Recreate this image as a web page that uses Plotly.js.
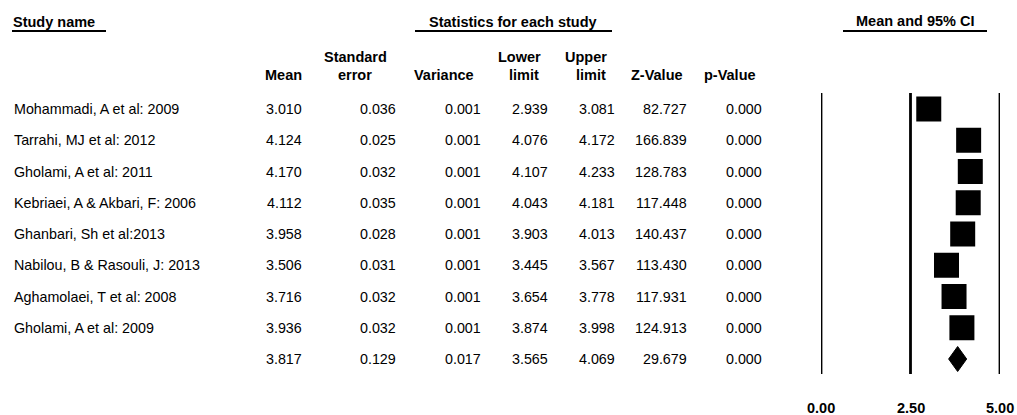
<!DOCTYPE html>
<html>
<head>
<meta charset="utf-8">
<script src="https://cdn.plot.ly/plotly-3.0.1.min.js"></script>
<style>html,body{margin:0;padding:0;background:#fff;}#chart{width:1017px;height:415px;}</style>
</head>
<body>
<div id="chart"></div>
<script>
// ---- data ----
const studyNames = [
  "Mohammadi, A et al: 2009",
  "Tarrahi, MJ et al: 2012",
  "Gholami, A et al: 2011",
  "Kebriaei, A & Akbari, F: 2006",
  "Ghanbari, Sh et al:2013",
  "Nabilou, B & Rasouli, J: 2013",
  "Aghamolaei, T et al: 2008",
  "Gholami, A et al: 2009",
  ""
];
const means     = [3.010, 4.124, 4.170, 4.112, 3.958, 3.506, 3.716, 3.936, 3.817];
const stdErrors = [0.036, 0.025, 0.032, 0.035, 0.028, 0.031, 0.032, 0.032, 0.129];
const variances = [0.001, 0.001, 0.001, 0.001, 0.001, 0.001, 0.001, 0.001, 0.017];
const lowerLims = [2.939, 4.076, 4.107, 4.043, 3.903, 3.445, 3.654, 3.874, 3.565];
const upperLims = [3.081, 4.172, 4.233, 4.181, 4.013, 3.567, 3.778, 3.998, 4.069];
const zValues   = [82.727, 166.839, 128.783, 117.448, 140.437, 113.430, 117.931, 124.913, 29.679];
const pValues   = [0.000, 0.000, 0.000, 0.000, 0.000, 0.000, 0.000, 0.000, 0.000];
const tickVals  = [0, 2.5, 5];
const tickText  = ["0.00", "2.50", "5.00"];
const summaryIndex = 8;

// ---- layout helpers ----
const W = 1017, H = 415;
const px = x => x / W;
const py = y => 1 - y / H;
const FONT = "Liberation Sans, Arial, sans-serif";
const dataFont = {family: FONT, size: 14.3, color: "#000"};
const headFont = {family: FONT, size: 14.5, color: "#000", weight: "bold"};
const b = s => "<b>" + s + "</b>";

const rowTop = 109, rowStep = 31.25;
const yRange = [(H - rowTop) / rowStep, -rowTop / rowStep];

const annotations = [];
function txt(text, x, y, xanchor, font, yref) {
  annotations.push({text: text, x: x, y: y, xref: "paper", yref: yref || "paper",
    xanchor: xanchor, yanchor: "middle", showarrow: false, font: font,
    borderpad: 0, align: xanchor === "right" ? "right" : (xanchor === "left" ? "left" : "center")});
}

// headers
txt(b("Study name"), px(12), py(22), "left", headFont);
txt(b("Statistics for each study"), px(513), py(22), "center", headFont);
txt(b("Mean and 95% CI"), px(915), py(21), "center", headFont);
txt(b("Mean"), px(303), py(75), "right", headFont);
txt(b("Standard"), px(355), py(57), "center", headFont);
txt(b("error"), px(355), py(75), "center", headFont);
txt(b("Variance"), px(444), py(75), "center", headFont);
txt(b("Lower"), px(519), py(57), "center", headFont);
txt(b("limit"), px(524), py(75), "center", headFont);
txt(b("Upper"), px(586), py(57), "center", headFont);
txt(b("limit"), px(591), py(75), "center", headFont);
txt(b("Z-Value"), px(657), py(75), "center", headFont);
txt(b("p-Value"), px(730), py(75), "center", headFont);

// table cells
const cols = [
  {vals: means, x: 303},
  {vals: stdErrors, x: 397},
  {vals: variances, x: 482},
  {vals: lowerLims, x: 549},
  {vals: upperLims, x: 616},
  {vals: zValues, x: 688},
  {vals: pValues, x: 763}
];
studyNames.forEach((n, i) => {
  if (n) txt(n, px(13), i, "left", dataFont, "y");
  cols.forEach(c => txt(c.vals[i].toFixed(3), px(c.x), i, "right", dataFont, "y"));
});

// tick labels
tickVals.forEach((v, k) => {
  annotations.push({text: b(tickText[k]), x: v, y: py(408), xref: "x", yref: "paper",
    xanchor: "center", yanchor: "middle", showarrow: false, font: headFont});
});

// shapes: underlines + vertical reference lines
const shapes = [
  {type: "line", xref: "paper", yref: "paper", x0: px(12), x1: px(106), y0: py(31), y1: py(31), line: {color: "#000", width: 2}},
  {type: "line", xref: "paper", yref: "paper", x0: px(415), x1: px(612), y0: py(31), y1: py(31), line: {color: "#000", width: 2}},
  {type: "line", xref: "paper", yref: "paper", x0: px(843), x1: px(987), y0: py(31), y1: py(31), line: {color: "#000", width: 2}}
];
tickVals.forEach(v => shapes.push({type: "line", xref: "x", yref: "y", x0: v, x1: v,
  y0: -0.51, y1: 8.48, line: {color: "#000", width: 2.8}}));

// traces
const studyIdx = means.map((_, i) => i).filter(i => i !== summaryIndex);
const squares = {
  type: "scatter", mode: "markers",
  x: studyIdx.map(i => means[i]), y: studyIdx,
  marker: {symbol: "square", size: 25, color: "#000", line: {width: 0}},
  hoverinfo: "skip", showlegend: false
};
const s = summaryIndex, h = 0.4;
const diamond = {
  type: "scatter", mode: "lines", fill: "toself", fillcolor: "#000",
  x: [lowerLims[s], means[s], upperLims[s], means[s], lowerLims[s]],
  y: [s, s - h, s, s + h, s],
  line: {color: "#000", width: 1}, hoverinfo: "skip", showlegend: false
};

const layout = {
  width: W, height: H,
  margin: {l: 0, r: 0, t: 0, b: 0},
  paper_bgcolor: "#fff", plot_bgcolor: "rgba(0,0,0,0)",
  showlegend: false,
  xaxis: {domain: [821 / W, 1000 / W], range: [0, 5], visible: false, fixedrange: true},
  yaxis: {domain: [0, 1], range: yRange, visible: false, fixedrange: true},
  annotations: annotations,
  shapes: shapes
};

Plotly.newPlot("chart", [squares, diamond], layout, {staticPlot: true, displayModeBar: false});
</script>
</body>
</html>
